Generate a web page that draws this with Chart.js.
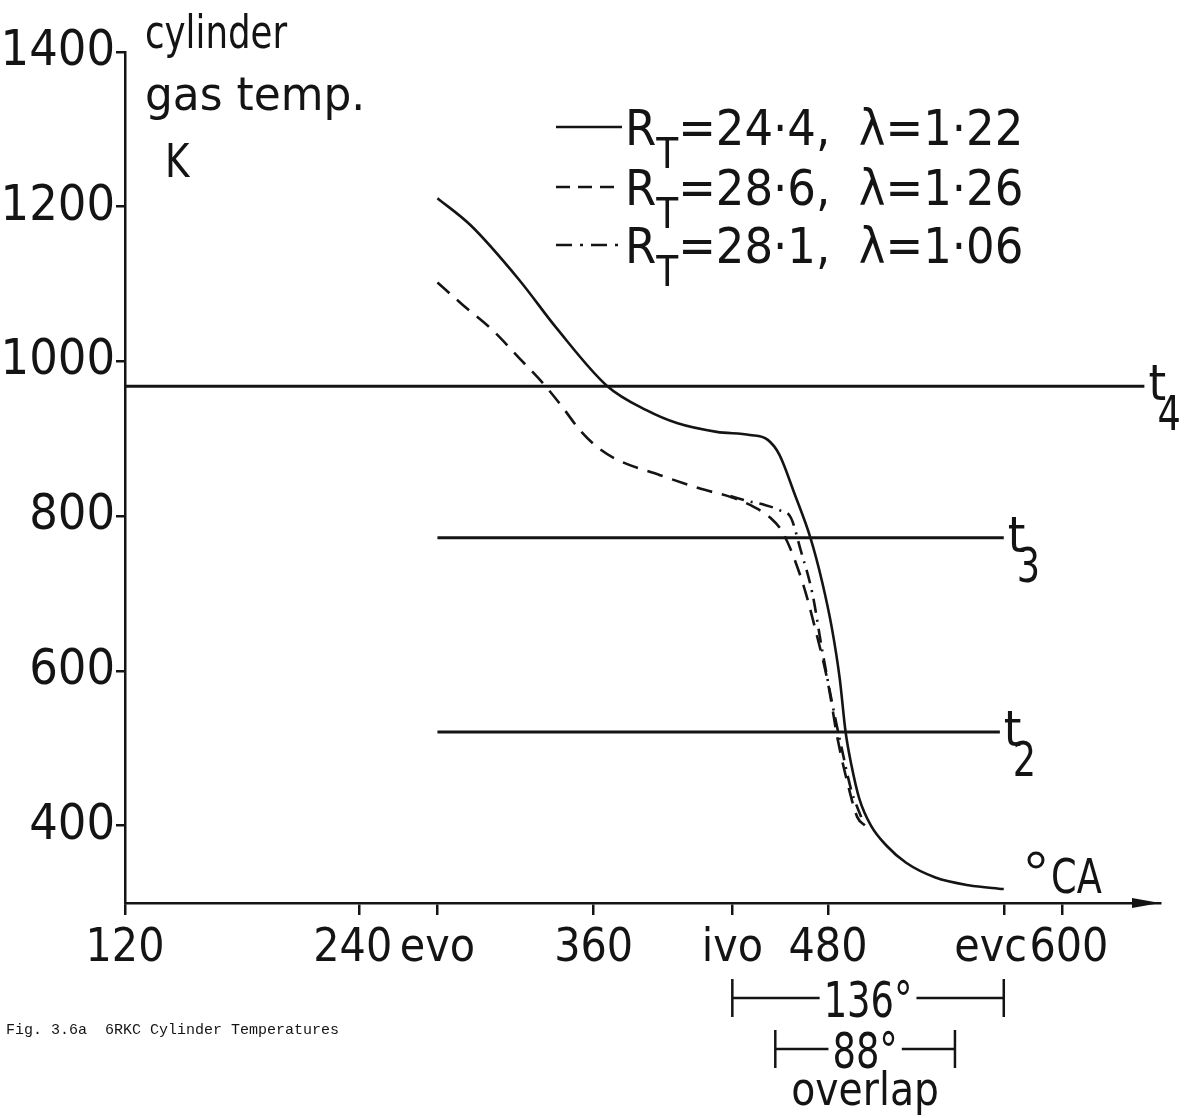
<!DOCTYPE html>
<html>
<head>
<meta charset="utf-8">
<script src="https://cdn.jsdelivr.net/npm/chart.js@4.4.1/dist/chart.umd.min.js"></script>
<style>
  html, body { margin: 0; padding: 0; background: #fff; }
  #wrap { width: 1195px; height: 1118px; }
</style>
</head>
<body>
<div id="wrap"><canvas id="temps" width="1195" height="1118"></canvas></div>
<script>
// crank angle (deg CA) / cylinder gas temperature (K)
const solidCA   = [280, 297, 322, 341, 367, 387, 403, 423, 440, 449, 455, 463, 471, 477, 482, 486, 489, 492, 496, 502, 510, 520, 535, 552, 570];
const solidTemp = [1211, 1176, 1105, 1043, 968, 937, 920, 909, 905, 899, 880, 828, 772, 715, 655, 590, 521, 478, 435, 400, 374, 352, 333, 323, 318];

const dashedCA   = [280, 293, 308, 322, 334, 344, 353, 362, 372, 394, 414, 431, 442, 450, 457, 467, 474, 480, 485, 490, 495, 499];
const dashedTemp = [1102, 1073, 1041, 1004, 972, 941, 911, 889, 873, 853, 836, 824, 812, 799, 778, 714, 649, 584, 511, 455, 411, 400];

const dashDotCA   = [430, 440, 447, 455, 461, 466, 472, 477, 482, 487, 492, 497];
const dashDotTemp = [826, 819, 815, 808, 798, 756, 700, 627, 560, 500, 445, 411];

// legend
const rtValues     = ['24·4', '28·6', '28·1'];
const lambdaValues = ['1·22', '1·26', '1·06'];

// t2..t4 reference temperatures and their extent in deg CA
const tNames  = ['4', '3', '2'];
const tLevels = [968, 772, 521];
const tStart  = [120, 280, 280];
const tEnd    = [642, 570, 568];

// axis ticks
const xTickValues = [120, 240, 280, 360, 431, 480, 570, 600];
const xTickLabels = ['120', '240 ', 'evo', '360', 'ivo', '480', 'evc  ', ' 600'];
const yTickValues = [400, 600, 800, 1000, 1200, 1400];

// valve timing spans
const spanFrom   = [431, 453];
const spanTo     = [570, 545];
const spanLabels = ['136°', '88°'];

const INK = '#141414';
const FONT = '"DejaVu Sans Condensed", "Liberation Sans Narrow", "Liberation Sans", sans-serif';

function pts(xs, ys) { return xs.map((x, i) => ({ x: x, y: ys[i] })); }

const curveStyle = { borderColor: INK, borderWidth: 2.6, pointRadius: 0, showLine: true, cubicInterpolationMode: 'monotone', fill: false };

const datasets = [
  Object.assign({ label: 'solid', data: pts(solidCA, solidTemp) }, curveStyle),
  Object.assign({ label: 'dashed', data: pts(dashedCA, dashedTemp), borderDash: [16, 10] }, curveStyle),
  Object.assign({ label: 'dashdot', data: pts(dashDotCA, dashDotTemp), borderDash: [14, 7, 2, 7] }, curveStyle)
];
tLevels.forEach((lv, i) => {
  datasets.push({ label: 't' + tNames[i], data: [{ x: tStart[i], y: lv }, { x: tEnd[i], y: lv }],
    borderColor: INK, borderWidth: 3, pointRadius: 0, showLine: true });
});

// condensed text helper
function txt(ctx, s, x, y, size, align, sx) {
  ctx.save();
  ctx.font = size + 'px ' + FONT;
  ctx.textAlign = align || 'left';
  ctx.translate(x, y);
  ctx.scale(sx || 1, 1);
  ctx.fillText(s, 0, 0);
  const w = ctx.measureText(s).width * (sx || 1);
  ctx.restore();
  return w;
}

// text, legend, brackets, arrow head
const annotate = {
  id: 'annotate',
  afterDraw(chart) {
    const ctx = chart.ctx;
    const X = v => chart.scales.x.getPixelForValue(v);
    const Y = v => chart.scales.y.getPixelForValue(v);
    const area = chart.chartArea;
    ctx.save();
    ctx.fillStyle = INK;
    ctx.strokeStyle = INK;
    ctx.textBaseline = 'alphabetic';

    // arrow head on the CA axis
    ctx.beginPath();
    ctx.moveTo(area.right, area.bottom);
    ctx.lineTo(area.right - 28, area.bottom - 5);
    ctx.lineTo(area.right - 28, area.bottom + 5);
    ctx.closePath();
    ctx.fill();

    // y axis title
    txt(ctx, 'cylinder', 145, 48, 46, 'left', 0.86);
    txt(ctx, 'gas temp.', 145, 110, 46, 'left', 1.06);
    txt(ctx, 'K', 165, 177, 46, 'left', 0.9);

    // °CA
    ctx.lineWidth = 3;
    ctx.beginPath();
    ctx.arc(1036, 860, 7, 0, Math.PI * 2);
    ctx.stroke();
    txt(ctx, 'CA', 1051, 893, 48, 'left', 0.85);

    // t labels
    tLevels.forEach((lv, i) => {
      const x0 = X(tEnd[i]) + 4, y0 = Y(lv);
      txt(ctx, 't', x0, y0 + 14, 50, 'left', 1);
      txt(ctx, tNames[i], x0 + 9, y0 + 44, 48, 'left', 0.85);
    });

    // legend
    const rowY = [127, 187, 245];
    const dashes = [[], [14, 8], [16, 8, 3, 8]];
    rtValues.forEach((rt, i) => {
      ctx.lineWidth = 2.5;
      ctx.setLineDash(dashes[i]);
      ctx.beginPath();
      ctx.moveTo(556, rowY[i]);
      ctx.lineTo(622, rowY[i]);
      ctx.stroke();
      ctx.setLineDash([]);
      const base = rowY[i] + 18;
      let x = 625;
      x += txt(ctx, 'R', x, base, 50, 'left', 1);
      x += txt(ctx, 'T', x, base + 23, 42, 'left', 0.95);
      txt(ctx, '=' + rt + ',  λ=' + lambdaValues[i], x, base, 50, 'left', 1);
    });

    // valve timing brackets
    const bracketY = [998, 1049];
    ctx.lineWidth = 2.5;
    spanLabels.forEach((lab, i) => {
      const a = X(spanFrom[i]), b = X(spanTo[i]), yb = bracketY[i];
      ctx.font = '50px ' + FONT;
      const w = ctx.measureText(lab).width * 0.82;
      const mid = (a + b) / 2;
      ctx.beginPath();
      ctx.moveTo(a, yb - 19); ctx.lineTo(a, yb + 19);
      ctx.moveTo(b, yb - 19); ctx.lineTo(b, yb + 19);
      ctx.moveTo(a, yb); ctx.lineTo(mid - w / 2 - 4, yb);
      ctx.moveTo(mid + w / 2 + 4, yb); ctx.lineTo(b, yb);
      ctx.stroke();
      txt(ctx, lab, mid, yb + 19, 50, 'center', 0.82);
    });
    txt(ctx, 'overlap', (X(spanFrom[1]) + X(spanTo[1])) / 2, 1105, 46, 'center', 0.95);

    // caption
    ctx.textAlign = 'left';
    ctx.font = '15px "Liberation Mono", monospace';
    ctx.fillText('Fig. 3.6a  6RKC Cylinder Temperatures', 6, 1034);
    ctx.restore();
  }
};

new Chart(document.getElementById('temps'), {
  type: 'scatter',
  data: { datasets: datasets },
  options: {
    responsive: false,
    animation: false,
    layout: { padding: { top: 52, right: 35, left: 0, bottom: 0 } },
    plugins: { legend: { display: false }, tooltip: { enabled: false } },
    scales: {
      x: {
        type: 'linear', min: 120, max: 650,
        afterFit(s) { s.height = 215; },
        afterBuildTicks(s) { s.ticks = xTickValues.map(v => ({ value: v })); },
        grid: { display: true, drawOnChartArea: false, drawTicks: true, tickLength: 12, color: INK, lineWidth: 2.5 },
        border: { display: true, color: INK, width: 2.5 },
        ticks: {
          autoSkip: false, minRotation: 0, maxRotation: 0, padding: 6, color: INK,
          font: { family: FONT, size: 46 },
          callback: (v, i) => xTickLabels[i]
        }
      },
      y: {
        type: 'linear', min: 300, max: 1400,
        afterFit(s) { s.width = 125; },
        afterBuildTicks(s) { s.ticks = yTickValues.map(v => ({ value: v })); },
        grid: { display: true, drawOnChartArea: false, drawTicks: true, tickLength: 9, color: INK, lineWidth: 2.5 },
        border: { display: true, color: INK, width: 2.5 },
        ticks: { padding: 1, color: INK, font: { family: FONT, size: 50 }, callback: v => String(v) }
      }
    }
  },
  plugins: [annotate]
});
</script>
</body>
</html>
